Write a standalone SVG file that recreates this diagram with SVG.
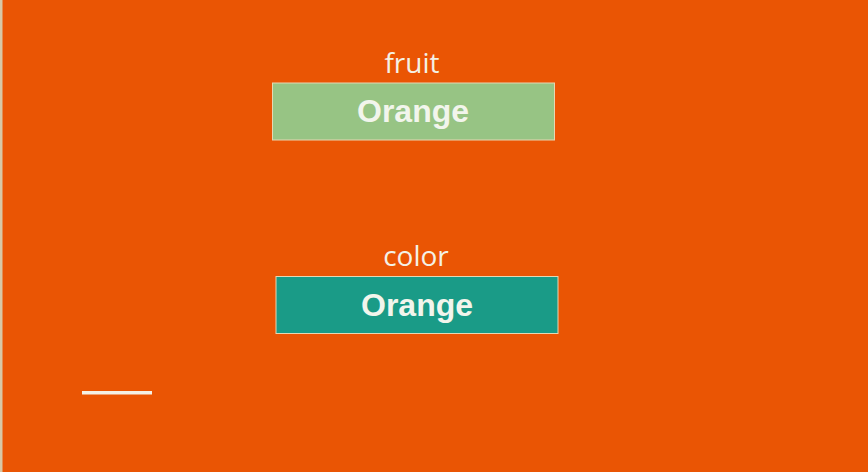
<svg xmlns="http://www.w3.org/2000/svg" width="868" height="472" viewBox="0 0 868 472">
<style>
.lbl{font-family:"Open Sans","Liberation Sans",sans-serif;font-size:28px;fill:#F4F1E6;text-anchor:middle}
.val{font-family:"Liberation Sans",Arial,sans-serif;font-weight:bold;font-size:32px;fill:#F2F5EC;text-anchor:middle}
.box{stroke:#E6D7B2;stroke-width:1}
</style>
<rect x="0" y="0" width="868" height="472" fill="#EA5504"/>
<rect x="0" y="0" width="2.5" height="472" fill="#D8C7A6"/>
<g id="fruit">
<text class="lbl" x="412" y="72.5">fruit</text>
<rect class="box" x="272.5" y="83" width="282" height="57" fill="#97C484"/>
<text class="val" x="413" y="122">Orange</text>
</g>
<g id="color">
<text class="lbl" x="416" y="266">color</text>
<rect class="box" x="276" y="276.5" width="282" height="57" fill="#1A9B87"/>
<text class="val" x="417" y="315.5">Orange</text>
</g>
<g id="connectors"></g>
<rect x="82" y="391" width="70" height="3.5" fill="#F4F1E6"/>
</svg>
